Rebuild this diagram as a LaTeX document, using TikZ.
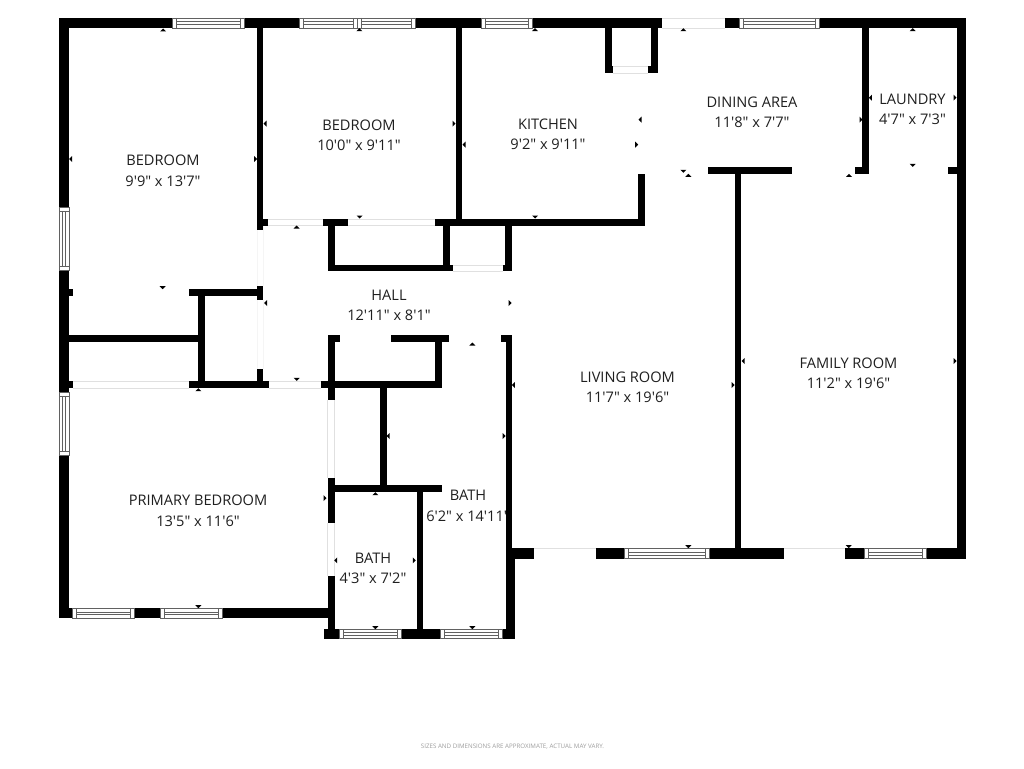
\documentclass[tikz,border=0pt]{standalone}
\usepackage{fontspec}
\newfontfamily\lab{Open Sans}
\newcommand{\hwin}[4]{%x1 x2 y1 y2
  \fill[white] (#1,#3) rectangle (#2,#4);
  \draw[winline] (#1,#3) rectangle (#2,#4);
  \draw[winline] (#1+4,#3) -- (#1+4,#4) (#2-4,#3) -- (#2-4,#4);
  \draw[winline] (#1+4,{(#3+#4)/2-1.3}) -- (#2-4,{(#3+#4)/2-1.3}) (#1+4,{(#3+#4)/2+1.3}) -- (#2-4,{(#3+#4)/2+1.3});}
\newcommand{\vwin}[4]{%x1 x2 y1 y2
  \fill[white] (#1,#3) rectangle (#2,#4);
  \draw[winline] (#1,#3) rectangle (#2,#4);
  \draw[winline] (#1,#3+4) -- (#2,#3+4) (#1,#4-4) -- (#2,#4-4);
  \draw[winline] ({(#1+#2)/2-1.3},#3+4) -- ({(#1+#2)/2-1.3},#4-4) ({(#1+#2)/2+1.3},#3+4) -- ({(#1+#2)/2+1.3},#4-4);}
\tikzset{
  winline/.style={draw=black!62,line width=.6pt},
  wall/.style={fill=black},
  doorline/.style={draw=black!12,line width=.8pt},
  faintline/.style={draw=black!4,line width=.6pt},
  tick/.style={fill=black},
  room/.style={font=\lab\fontsize{14.6}{17}\selectfont,text=black!88,align=center,inner sep=0pt},
  note/.style={font=\lab\fontsize{6.2}{7}\selectfont,text=black!38,inner sep=0pt}
}
\begin{document}
\begin{tikzpicture}[x=1pt,y=-1pt]
\useasboundingbox (0,0) rectangle (1024,768);
\fill[white] (0,0) rectangle (1024,768);
% labels (drawn first: the wall hides the end of one of them)
\node[room] (bed1)  at (163,160.5) {BEDROOM};
\node[room] (bed1d) at (163,181) {9'9" x 13'7"};
\node[room] (bed2)  at (359,125.5) {BEDROOM};
\node[room] (bed2d) at (359,145) {10'0" x 9'11"};
\node[room] (kit)   at (548,124.5) {KITCHEN};
\node[room] (kitd)  at (548,144) {9'2" x 9'11"};
\node[room] (din)   at (752,102.5) {DINING AREA};
\node[room] (dind)  at (752,122) {11'8" x 7'7"};
\node[room] (lau)   at (912.5,99.5)  {LAUNDRY};
\node[room] (laud)  at (912.5,119) {4'7" x 7'3"};
\node[room] (hall)  at (389,295.5) {HALL};
\node[room] (halld) at (389,315) {12'11" x 8'1"};
\node[room] (liv)   at (627.5,377.5) {LIVING ROOM};
\node[room] (livd)  at (627.5,397) {11'7" x 19'6"};
\node[room] (fam)   at (848.5,363.5) {FAMILY ROOM};
\node[room] (famd)  at (848.5,383) {11'2" x 19'6"};
\node[room] (pri)   at (198,500.5) {PRIMARY BEDROOM};
\node[room] (prid)  at (198,521) {13'5" x 11'6"};
\node[room] (bth1)  at (373,558.5) {BATH};
\node[room] (bth1d) at (373,578) {4'3" x 7'2"};
\node[room] (bth2)  at (468,495.5) {BATH};
\node[room] (bth2d) at (468,516) {6'2" x 14'11"};
\node[note] (foot)  at (512.5,747) {SIZES AND DIMENSIONS ARE APPROXIMATE, ACTUAL MAY VARY.};
% faint openings
\foreach \x/\a/\b in {257/226/286,263/226/286,257/300/369,263/300/369}
  \draw[faintline] (\x,\a) -- (\x,\b);
% door strips, horizontal
\foreach \a/\b/\y/\z in {73/189/381/388,269/321/381/388,268/323/219/225.5,347.7/435/219/225.5,452.7/503.3/265/271.3,613/648/66.5/73,662/725/18/28}
  \draw[doorline] (\a,\y) -- (\b,\y) (\a,\z) -- (\b,\z);
\foreach \a/\b in {534/596,784/845}
  \draw[doorline] (\a,548.5) -- (\b,548.5);
% door strips, vertical
\foreach \y/\z in {400/478,523/576}
  \draw[doorline] (327.7,\y) -- (327.7,\z) (334.5,\y) -- (334.5,\z);
% walls
\foreach \a/\b/\c/\d in {
  58.5/172/17.7/28, 244.3/299.3/17.7/28, 415.7/481.3/17.7/28, 532/662.3/17.7/28,
  725/739.3/17.7/28, 819.3/966/17.7/28,
  58.5/69/17.7/207, 59/69/270/392.7, 59/69/455/618.3,
  69/73/289.3/296, 69/198/335.3/342.3, 69/73/380.7/387.7,
  198/205/289.3/387.7, 189/263/289.3/296, 256.7/263.3/286.3/300,
  189/269/380.7/387.7, 256.7/263.3/368.7/387.7,
  256.7/263.3/28/230, 263/268/218.7/225.5,
  323.3/347.7/218.5/225.5, 327.7/334.7/218.5/271.3, 327.7/452.7/264.7/271.3,
  443/450/218.5/271.3, 435/645/218.7/225.5, 638/645/173.7/225.5,
  455.7/462.3/28/218.7, 505.3/512.3/225/271.3, 503.3/512.3/264.7/271.3,
  604.7/611.7/28/73.3, 604.7/613.3/66.3/73.3, 650.7/657.7/28/73.3, 648.3/657.7/66.3/73.3,
  708.3/791.7/167.3/174, 734.7/741.3/174/548.5,
  862.3/869.3/28/174, 855.3/869.3/167.3/174, 947.7/957/167.3/174, 956.7/966/17.7/558.7,
  321/442/381/388, 327.7/334.7/335.3/400, 327.7/339.7/335.3/342.3,
  391.3/449.3/335.3/342.3, 435.3/442/335.3/388,
  501.3/512.3/335.3/342.3, 505.5/512.3/335.3/549, 505.5/515.3/548/638.7,
  512/534.3/548.3/558.7, 595.7/624/548.3/558.7, 709.3/783.7/548.3/558.7,
  845.3/864/548.3/558.7, 926/966/548.3/558.7,
  59/72.3/608.3/618.3, 134.7/160/608.3/618.3, 222/334/608.3/618.3,
  327.5/334.5/575.7/638.7, 324/339.3/629/638.7, 401.3/440.3/629/638.7, 502/515.3/629/638.7,
  327.5/334.5/478.3/523, 334/442.3/485.3/492.3, 380/387/388/485.5, 416.7/423.3/492/630}
  \fill[wall] (\a,\c) rectangle (\b,\d);
% windows
\hwin{172}{244.3}{18}{28}
\hwin{299.3}{357.5}{18}{28}
\hwin{357.5}{415.7}{18}{28}
\hwin{481.3}{532}{18}{28}
\hwin{739.3}{819.3}{18}{28}
\vwin{59}{69}{207}{270}
\vwin{59}{69}{392.7}{455}
\hwin{624}{709.3}{548.5}{558.5}
\hwin{864}{926}{548.5}{558.5}
\hwin{72.3}{134.7}{608.5}{618.3}
\hwin{160}{222}{608.5}{618.3}
\hwin{339.3}{401.3}{629}{638.7}
\hwin{440.3}{502}{629}{638.7}
% measuring ticks
\foreach \x/\y in {163/30,359.3/29.7,296.7/227,198.3/389.7,472.3/344,375.3/493.7,535/29.7,683.3/29.7,688.3/175.3,912.7/29.7,849/175.3}
  \fill[tick] (\x-3,\y+1.5) -- (\x+3,\y+1.5) -- (\x,\y-1.5) -- cycle;
\foreach \x/\y in {162.7/287.7,296.7/379.3,359.7/217,375.3/627.7,472.3/627.7,535/217,683.3/171.3,912.7/165.3,688.3/546.7,848.7/546.7,198.3/606.7}
  \fill[tick] (\x-3,\y-1.5) -- (\x+3,\y-1.5) -- (\x,\y+1.5) -- cycle;
\foreach \x/\y in {70.7/159,265/123.7,265.7/303,513.3/385,388/436,335.7/560.3,640/119.7,464/144.7,870.3/97.7,743/361}
  \fill[tick] (\x+1.5,\y-3) -- (\x+1.5,\y+3) -- (\x-1.5,\y) -- cycle;
\foreach \x/\y in {255.7/159,510/303,504/436,325/498,414.3/560.3,636.7/144.7,454/123.7,955/97.7,861/119.7,733/385,955/361}
  \fill[tick] (\x-1.5,\y-3) -- (\x-1.5,\y+3) -- (\x+1.5,\y) -- cycle;
\end{tikzpicture}
\end{document}
